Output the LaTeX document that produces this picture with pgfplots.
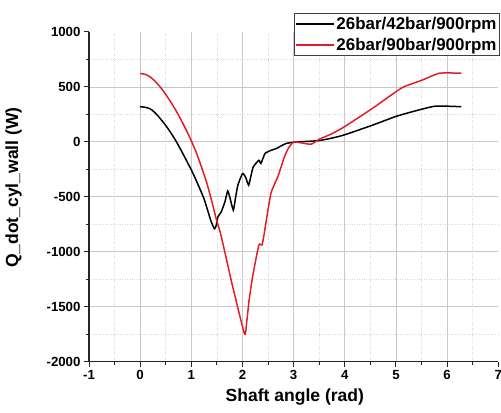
\documentclass[border=0pt]{standalone}
\usepackage{fontspec}
\setmainfont{Liberation Sans}
\usepackage{pgfplots}
\pgfplotsset{compat=1.18}
\definecolor{curvered}{RGB}{226,30,36}
\definecolor{gridmaj}{RGB}{200,200,200}
\definecolor{gridmin}{RGB}{215,215,215}

\begin{document}
\begin{tikzpicture}
\useasboundingbox (0,0) rectangle (501bp,413bp);
\begin{axis}[
  at={(89bp,51.3bp)}, anchor=south west,
  scale only axis, width=409.3bp, height=329.7bp,
  xmin=-1, xmax=7, ymin=-2000, ymax=1000,
  axis x line*=bottom, axis y line*=left,
  axis line style={line width=1.2pt, black!85},
  xtick={-1,0,...,6}, extra x ticks={7},
  ytick={-2000,-1500,...,500}, extra y ticks={1000},
  extra tick style={grid=none},
  minor xtick={-0.5,0.5,...,6.5},
  minor ytick={-1750,-1250,...,750},
  tick align=outside,
  major tick length=5bp, minor tick length=3bp,
  tick style={black!85, line width=1pt},
  grid=both,
  major grid style={gridmaj, line width=0.8pt},
  minor grid style={gridmin, dotted, line width=0.7pt},
  ticklabel style={font=\fontsize{13.3}{15}\selectfont\bfseries},
  /pgf/number format/assume math mode=true,
  /pgf/number format/1000 sep={},
  xlabel={Shaft angle (rad)},
  ylabel={Q\_dot\_cyl\_wall (W)},
  label style={font=\fontsize{17.6}{20}\selectfont\bfseries},
  xlabel style={at={(axis description cs:0.503,-0.107)}, anchor=center},
  ylabel style={at={(axis description cs:-0.1845,0.528)}, anchor=center},
  legend style={at={(rel axis cs:1.004,1.058)}, anchor=north east,
    font=\fontsize{17}{19}\selectfont\bfseries, draw=black!75, line width=0.8pt,
    fill=white, inner xsep=1bp, inner ysep=2bp, row sep=3bp},
  legend cell align=left,
  legend image code/.code={\draw[#1] (-2bp,0bp) -- (36bp,0bp);},
]
% 26 bar suction / 42 bar discharge
\addplot[black, line width=1.5pt, smooth, tension=0.3] coordinates {
(0,320) (0.1,315) (0.2,300) (0.27,274) (0.35,236) (0.5,150) (0.6,82)
(0.7,8) (0.8,-76) (0.9,-165) (1.0,-255) (1.1,-355) (1.25,-520)
(1.38,-715) (1.45,-790) (1.48,-770) (1.52,-682) (1.58,-640) (1.61,-606)
(1.66,-540) (1.71,-446) (1.75,-500) (1.82,-621) (1.86,-520) (1.91,-394)
(2.0,-288) (2.06,-320) (2.12,-394) (2.17,-300) (2.21,-227) (2.32,-167)
(2.36,-197) (2.44,-106) (2.56,-76) (2.66,-61) (2.72,-45) (2.85,-15)
(3.0,-3) (3.2,3) (3.5,12) (3.75,35) (4.0,65) (4.54,152) (5.0,232)
(5.4,285) (5.78,326) (6.28,320)
};
\addlegendentry{26bar/42bar/900rpm}
% 26 bar suction / 90 bar discharge
\addplot[curvered, line width=1.5pt, smooth, tension=0.3] coordinates {
(0,622) (0.1,615) (0.2,590) (0.3,548) (0.4,495) (0.5,432) (0.6,362)
(0.7,285) (0.8,200) (0.9,108) (1.0,10) (1.1,-100) (1.2,-230) (1.3,-370)
(1.4,-540) (1.48,-690) (1.58,-850)
(1.8,-1300) (2.04,-1748) (2.08,-1650) (2.13,-1439) (2.2,-1220)
(2.32,-939) (2.38,-939) (2.42,-850) (2.47,-700) (2.56,-460) (2.69,-318)
(2.82,-136) (2.9,-55) (3.0,0) (3.1,-5) (3.34,-21) (3.5,24) (3.75,75)
(4.0,140) (4.54,305) (5.0,457) (5.16,503) (5.5,560) (5.85,625) (6.28,625)
};
\addlegendentry{26bar/90bar/900rpm}
\end{axis}
\end{tikzpicture}
\end{document}
